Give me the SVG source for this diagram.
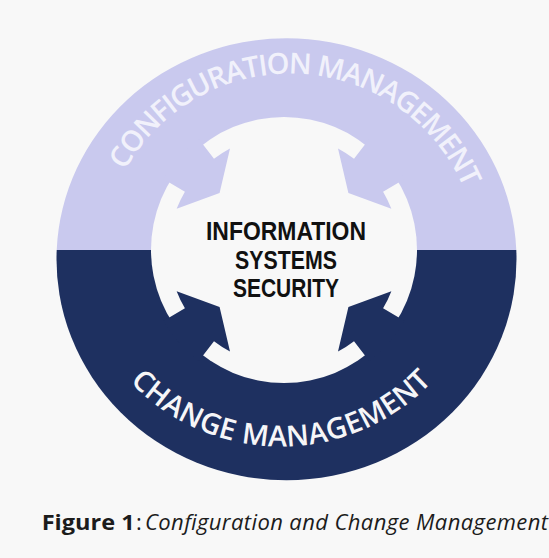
<svg xmlns="http://www.w3.org/2000/svg" width="549" height="558" viewBox="0 0 549 558">
  <defs>
    <style>
      .bg { fill: #f8f8f8; }
      .light { fill: #c9c9ee; }
      .dark { fill: #1e3060; }
      .ring-label { font-family: "Open Sans", "Noto Sans", "Liberation Sans", sans-serif; font-size: 29px; font-weight: 600; }
      .core-label { font-family: "Liberation Sans", "Open Sans", sans-serif; font-size: 25px; font-weight: 700; fill: #111111; text-anchor: middle; }
      .caption { font-family: "Open Sans", "Noto Sans", "Liberation Sans", sans-serif; font-size: 22px; fill: #1c1c1c; }
    </style>
    <!-- inward arrow, drawn along +x: shaft from the ring, broad head with tip toward the centre -->
    <path id="arrow" d="M137.43,-26.71 L112.89,-21.94 A115,115 0 0,0 107.72,-40.27 L86,0 L107.72,40.27 A115,115 0 0,0 112.89,21.94 L137.43,26.71 A140,140 0 0,0 137.43,-26.71 Z"/>
    <!-- baselines for the curved ring labels -->
    <path id="arc-top" d="M101.25,252.3 A189,189 0 0,1 478.75,271.7"/>
    <path id="arc-bottom" d="M72,237.5 A209,209 0 0,0 490,237.5"/>
  </defs>

  <rect class="bg" x="0" y="0" width="549" height="558"/>

  <!-- upper half of the ring -->
  <g id="configuration-management">
    <path class="light" d="M56.7,250 A230,221 0 0,1 516.3,250 Z"/>
    <text class="ring-label" fill="#f1f1fb">
      <textPath href="#arc-top" startOffset="50%" text-anchor="middle" textLength="421" lengthAdjust="spacing">CONFIGURATION MANAGEMENT</textPath>
    </text>
  </g>

  <!-- lower half of the ring -->
  <g id="change-management">
    <path class="dark" d="M56.7,250 A230,221 0 1,0 516.3,250 Z"/>
    <text class="ring-label" fill="#f6f6f8">
      <textPath href="#arc-bottom" startOffset="50%" text-anchor="middle" textLength="338" lengthAdjust="spacing">CHANGE MANAGEMENT</textPath>
    </text>
  </g>

  <!-- central disc -->
  <g id="information-systems-security">
    <circle class="bg" cx="284" cy="250" r="133"/>
    <text class="core-label" x="286" y="240" textLength="160" lengthAdjust="spacingAndGlyphs">INFORMATION</text>
    <text class="core-label" x="286" y="268.5" textLength="102" lengthAdjust="spacingAndGlyphs">SYSTEMS</text>
    <text class="core-label" x="286" y="296.5" textLength="106" lengthAdjust="spacingAndGlyphs">SECURITY</text>
  </g>

  <!-- arrows from each half of the ring into the centre -->
  <g id="connectors">
    <use href="#arrow" class="light" transform="translate(284,250) rotate(-138.5)"/>
    <use href="#arrow" class="light" transform="translate(284,250) rotate(-41.5)"/>
    <use href="#arrow" class="dark" transform="translate(284,250) rotate(138.5)"/>
    <use href="#arrow" class="dark" transform="translate(284,250) rotate(41.5)"/>
  </g>

  <!-- caption -->
  <g id="caption">
    <text class="caption" x="41.7" y="530" font-weight="700" font-size="23" textLength="93" lengthAdjust="spacingAndGlyphs">Figure 1</text>
    <text class="caption" x="136" y="530">:</text>
    <text class="caption" x="145" y="530" font-style="italic" textLength="403" lengthAdjust="spacing">Configuration and Change Management</text>
  </g>
</svg>
